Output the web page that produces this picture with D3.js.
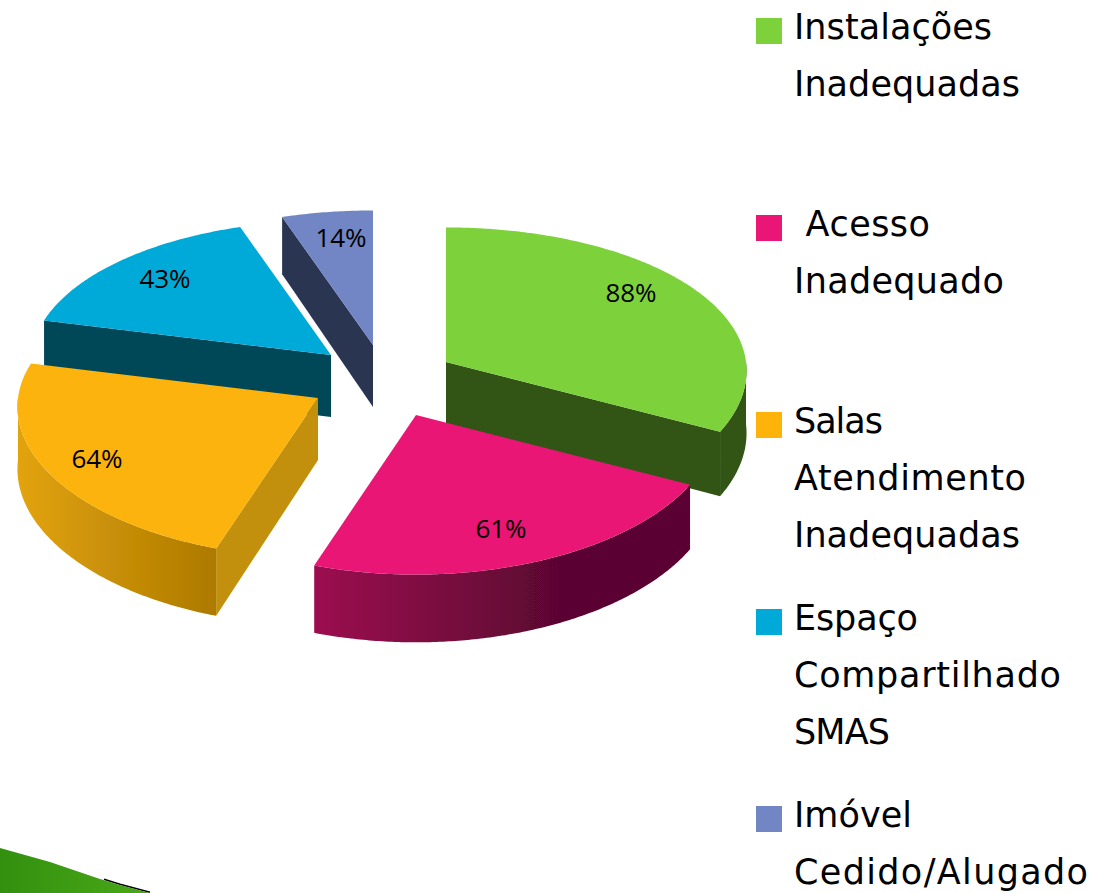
<!DOCTYPE html>
<html><head><meta charset="utf-8">
<script src="https://cdnjs.cloudflare.com/ajax/libs/d3/7.8.5/d3.min.js"></script>
<style>html,body{margin:0;padding:0;background:#fff}svg{display:block}</style>
</head><body><svg id="c" width="1095" height="893"></svg>
<script>
// ---- data ----
const categories = [
  ["Instalações","Inadequadas"],
  [" Acesso","Inadequado"],
  ["Salas","Atendimento","Inadequadas"],
  ["Espaço","Compartilhado","SMAS"],
  ["Imóvel","Cedido/Alugado"]
];
const values = [88,61,64,43,14];
// ---- styles ----
const topColors  = ["#7dd13a","#e91675","#fdb309","#00aad8","#7285c4"];
const cutColors  = ["#335419","#5c0630","#c29007","#004659","#2c3651"];
const wallFrom   = ["#335419","#9c0d50","#e2a308","#004659","#2c3651"];
const wallTo     = ["#335419","#5a0630","#ad7a05","#004659","#2c3651"];
// ---- layout ----
const apexes = [[446,362],[416,415],[318,398],[331,355],[373,345]];
const labelOffsets = [[185,-69],[85,114],[-221,61],[-166,-76],[-32,-107]];
const legendTops = [18,215,412,609,806];
const legendWidths = [[198,226],[136,210],[89,232,226],[124,267,96],[118,294]];
const R = 300, K = 146, PERSP_X = 0.06, PERSP_Y = 0.085, DEPTH = 62, LINE = 57;

const svg = d3.select("#c");
const defs = svg.append("defs");
defs.append("filter").attr("id","soft").append("feGaussianBlur").attr("stdDeviation",0.55);

const arcs = d3.pie().sort(null).value(d=>d)(values);
const pscale = a => 1/(1+PERSP_Y*Math.cos(a));
const pscaleX = a => 1/(1+PERSP_X*Math.cos(a));
const pt = (apex,a) => [apex[0]+R*Math.sin(a)*pscaleX(a), apex[1]-K*Math.cos(a)*pscale(a)];
const drop = (q,a) => [q[0], q[1]+DEPTH*pscale(a)];
const sweep = (a0,a1) => d3.range(a0,a1,0.01).concat([a1]);
const line = d3.line();

const chart = svg.append("g").attr("filter","url(#soft)");
const order = d3.range(values.length).sort((i,j)=>d3.ascending(apexes[i][1],apexes[j][1]));

order.forEach(i=>{
  const s = arcs[i], apex = apexes[i], g = chart.append("g");
  const a0=s.startAngle, a1=s.endAngle;
  const face = a => { const e=pt(apex,a), ba=[apex[0],apex[1]+DEPTH], be=drop(e,a);
    g.append("path").attr("d",line([apex,e,be,ba])+"Z").attr("fill",cutColors[i]); };
  if (Math.cos(a0-Math.PI/2) < -1e-6) face(a0);
  if (Math.cos(a1+Math.PI/2) < -1e-6) face(a1);
  const w0=Math.max(a0,Math.PI/2), w1=Math.min(a1,1.5*Math.PI);
  if (w1>w0) {
    const as=sweep(w0,w1), tops=as.map(a=>pt(apex,a)), bots=as.map(a=>drop(pt(apex,a),a)).reverse();
    const xs=d3.extent(tops,d=>d[0]), id="wall"+i;
    const lg=defs.append("linearGradient").attr("id",id).attr("gradientUnits","userSpaceOnUse")
      .attr("x1",xs[0]).attr("x2",xs[1]).attr("y1",0).attr("y2",0);
    lg.append("stop").attr("offset",0).attr("stop-color",wallFrom[i]);
    if(i===1) lg.append("stop").attr("offset",0.65).attr("stop-color",wallTo[i]);
    lg.append("stop").attr("offset",1).attr("stop-color",wallTo[i]);
    g.append("path").attr("d",line(tops.concat(bots))+"Z").attr("fill",`url(#${id})`);
  }
  const rim=sweep(a0,a1).map(a=>pt(apex,a));
  g.append("path").attr("d",line([apex].concat(rim))+"Z").attr("fill",topColors[i]);
});

// data labels
svg.append("g").selectAll("text").data(values).join("text")
  .attr("x",(d,i)=>apexes[i][0]+labelOffsets[i][0])
  .attr("y",(d,i)=>apexes[i][1]+labelOffsets[i][1]+9)
  .attr("text-anchor","middle")
  .attr("font-family","'Open Sans'").attr("font-size",26).attr("fill","#000")
  .text(d=>d+"%");

// legend
const leg = svg.append("g").selectAll("g").data(categories.map((c,i)=>({c,i}))).join("g")
  .attr("transform",d=>`translate(756,${legendTops[d.i]})`);
leg.append("rect").attr("width",26).attr("height",26).attr("fill",d=>topColors[d.i]);
leg.selectAll("text").data(d=>d.c.map((t,j)=>({t,j,w:legendWidths[d.i][j]}))).join("text")
  .attr("x",38).attr("y",d=>21+d.j*LINE)
  .attr("font-family","'DejaVu Sans'").attr("font-size",35).attr("fill","#000")
  .attr("textLength",d=>d.w).attr("lengthAdjust","spacing")
  .style("white-space","pre")
  .text(d=>d.t);

// decorative swoosh, bottom-left corner
const swooshEdge = [[0,848],[50,862],[100,879],[120,885],[150,893]];
const swooshShade = [[104,880],[120,885],[150,893]];
const sg = defs.append("linearGradient").attr("id","sw").attr("x1",0).attr("x2",1).attr("y1",0).attr("y2",0);
sg.append("stop").attr("offset",0).attr("stop-color","#33900f");
sg.append("stop").attr("offset",1).attr("stop-color","#4aa818");
svg.append("path").attr("d",line(swooshShade)).attr("fill","none").attr("stroke","#000").attr("stroke-width",1.5).attr("transform","translate(0,-0.7)");
svg.append("path").attr("d",line(swooshEdge)+"L0,893Z").attr("fill","url(#sw)");
</script></body></html>
